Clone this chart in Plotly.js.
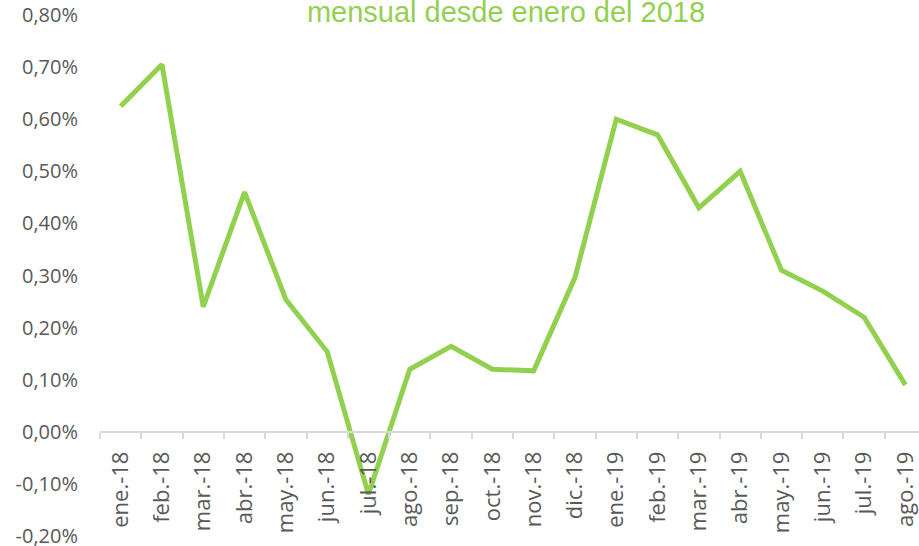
<!DOCTYPE html>
<html>
<head>
<meta charset="utf-8">
<script src="https://cdn.plot.ly/plotly-3.0.1.min.js"></script>
<style>html,body{margin:0;padding:0;background:#fff;}#chart{width:919px;height:546px;}</style>
</head>
<body>
<div id="chart"></div>
<script>
const categories = ["ene.-18","feb.-18","mar.-18","abr.-18","may.-18","jun.-18","jul.-18","ago.-18","sep.-18","oct.-18","nov.-18","dic.-18","ene.-19","feb.-19","mar.-19","abr.-19","may.-19","jun.-19","jul.-19","ago.-19"];
const inflacionMensual = [0.625, 0.705, 0.24, 0.46, 0.254, 0.154, -0.12, 0.12, 0.164, 0.12, 0.117, 0.296, 0.60, 0.57, 0.43, 0.50, 0.31, 0.27, 0.22, 0.09];
const yTickVals = [-0.2, -0.1, 0, 0.1, 0.2, 0.3, 0.4, 0.5, 0.6, 0.7, 0.8];
const yTickText = ["-0,20%","-0,10%","0,00%","0,10%","0,20%","0,30%","0,40%","0,50%","0,60%","0,70%","0,80%"];
const chartTitle = "mensual desde enero del 2018";

const trace = {
  x: categories,
  y: inflacionMensual,
  type: "scatter",
  mode: "lines",
  line: {color: "#92D050", width: 5, shape: "linear"},
  hoverinfo: "skip"
};

const layout = {
  width: 919,
  height: 546,
  margin: {l: 100, r: 0, t: 15, b: 10, pad: 0},
  paper_bgcolor: "#ffffff",
  plot_bgcolor: "#ffffff",
  showlegend: false,
  title: {
    text: chartTitle,
    font: {family: "Liberation Sans", size: 29, color: "#92D050"},
    x: 506 / 919,
    xanchor: "center",
    xref: "container",
    y: 1 - 2 / 546,
    yref: "container",
    yanchor: "top"
  },
  xaxis: {
    type: "category",
    range: [-0.5, 19.33],
    anchor: "free",
    position: 0.2,
    showline: true,
    linecolor: "#d9d9d9",
    linewidth: 2,
    showgrid: false,
    zeroline: false,
    ticks: "outside",
    tickson: "boundaries",
    ticklen: 6,
    tickwidth: 2,
    tickcolor: "#d9d9d9",
    tickangle: -90,
    ticklabelstandoff: 10,
    tickfont: {family: "Open Sans", size: 22, color: "#595959"},
    fixedrange: true
  },
  yaxis: {
    range: [-0.2, 0.8],
    tickvals: yTickVals,
    ticktext: yTickText,
    showline: false,
    showgrid: false,
    zeroline: false,
    ticks: "",
    ticklabelstandoff: 21,
    ticklabeloverflow: "allow",
    tickfont: {family: "Open Sans", size: 20, color: "#595959"},
    fixedrange: true
  }
};

Plotly.newPlot("chart", [trace], layout, {displayModeBar: false, staticPlot: true});
</script>
</body>
</html>
